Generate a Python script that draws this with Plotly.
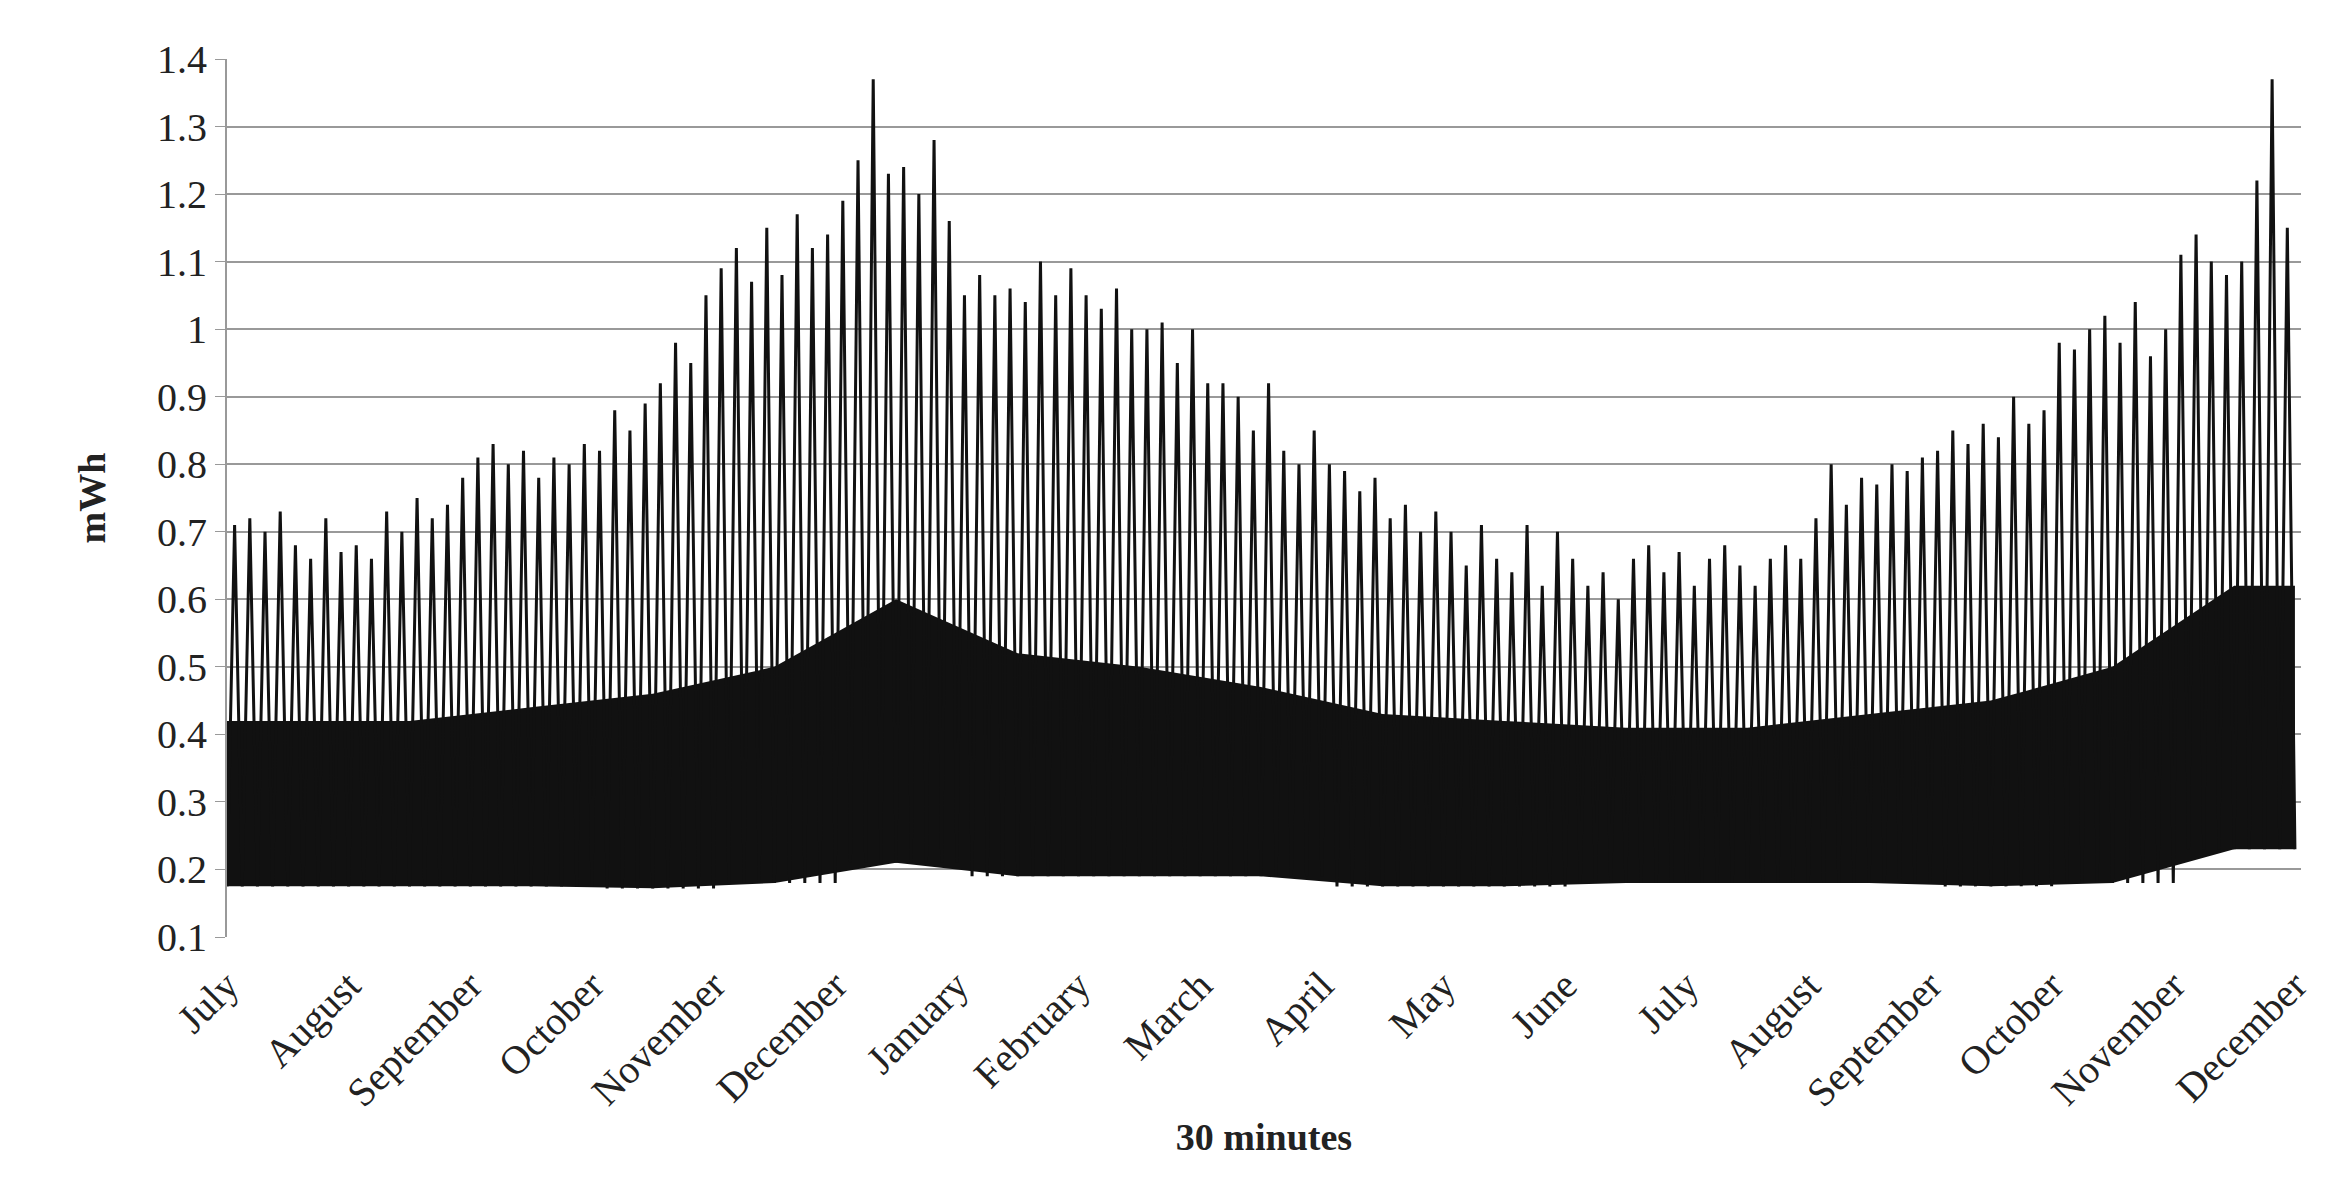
import plotly.graph_objects as go

# month labels on the category axis (one tick per month start)
months = ["July", "August", "September", "October", "November", "December",
          "January", "February", "March", "April", "May", "June",
          "July", "August", "September", "October", "November", "December"]

# half-weekly peak readings (8 per month), mWh
peaks = [
    [0.71, 0.72, 0.70, 0.73, 0.68, 0.66, 0.72, 0.67],
    [0.68, 0.66, 0.73, 0.70, 0.75, 0.72, 0.74, 0.78],
    [0.81, 0.83, 0.80, 0.82, 0.78, 0.81, 0.80, 0.83],
    [0.82, 0.88, 0.85, 0.89, 0.92, 0.98, 0.95, 1.05],
    [1.09, 1.12, 1.07, 1.15, 1.08, 1.17, 1.12, 1.14],
    [1.19, 1.25, 1.37, 1.23, 1.24, 1.20, 1.28, 1.16],
    [1.05, 1.08, 1.05, 1.06, 1.04, 1.10, 1.05, 1.09],
    [1.05, 1.03, 1.06, 1.00, 1.00, 1.01, 0.95, 1.00],
    [0.92, 0.92, 0.90, 0.85, 0.92, 0.82, 0.80, 0.85],
    [0.80, 0.79, 0.76, 0.78, 0.72, 0.74, 0.70, 0.73],
    [0.70, 0.65, 0.71, 0.66, 0.64, 0.71, 0.62, 0.70],
    [0.66, 0.62, 0.64, 0.60, 0.66, 0.68, 0.64, 0.67],
    [0.62, 0.66, 0.68, 0.65, 0.62, 0.66, 0.68, 0.66],
    [0.72, 0.80, 0.74, 0.78, 0.77, 0.80, 0.79, 0.81],
    [0.82, 0.85, 0.83, 0.86, 0.84, 0.90, 0.86, 0.88],
    [0.98, 0.97, 1.00, 1.02, 0.98, 1.04, 0.96, 1.00],
    [1.11, 1.14, 1.10, 1.08, 1.10, 1.22, 1.37, 1.15],
]
# monthly trough level and top of the solid core
lows = [0.175, 0.175, 0.175, 0.172, 0.18, 0.21, 0.19, 0.19, 0.19,
        0.175, 0.175, 0.18, 0.18, 0.18, 0.175, 0.18, 0.23]
core = [0.42, 0.42, 0.44, 0.46, 0.50, 0.60, 0.52, 0.50, 0.47,
        0.43, 0.42, 0.41, 0.41, 0.43, 0.45, 0.50, 0.62]

font = "Liberation Serif"
ink = "#111111"

# zigzag through peaks and troughs
zx, zy = [0.0], [lows[0]]
for m, row in enumerate(peaks):
    n = len(row)
    for k, p in enumerate(row):
        zx += [m + (k + 0.5) / n, m + (k + 1) / n]
        zy += [p, lows[m]]

bx = [0] + [m + 0.5 for m in range(len(core))] + [len(core)]
blo = [lows[0]] + lows + [lows[-1]]
bhi = [core[0]] + core + [core[-1]]

fig = go.Figure()
fig.add_trace(go.Scatter(x=bx, y=blo, mode="lines", line=dict(width=0, color=ink),
                         showlegend=False, hoverinfo="skip"))
fig.add_trace(go.Scatter(x=bx, y=bhi, mode="lines", line=dict(width=0, color=ink),
                         fill="tonexty", fillcolor=ink, showlegend=False))
fig.add_trace(go.Scatter(x=zx, y=zy, mode="lines", line=dict(width=3, color=ink),
                         showlegend=False))

yt = [round(0.1 * i, 1) for i in range(1, 15)]
fig.update_layout(
    width=2338, height=1193,
    margin=dict(l=219, r=45, t=51, b=264),
    plot_bgcolor="white", paper_bgcolor="white",
    font=dict(family=font, size=40, color="#222"),
    xaxis=dict(range=[0, 17.05], tickvals=list(range(18)), ticktext=months,
               tickangle=-45, showgrid=False, zeroline=False, showline=False,
               ticks="outside", ticklen=8, tickcolor="rgba(0,0,0,0)",
               title=dict(text="<b>30 minutes</b>", font=dict(size=38), standoff=8)),
    yaxis=dict(range=[0.1, 1.4], tickvals=yt,
               ticktext=[("%g" % v) for v in yt],
               showgrid=True, gridcolor="#999", gridwidth=2,
               showline=True, linecolor="#999", linewidth=2,
               ticks="outside", ticklen=10, tickcolor="#999", zeroline=False,
               title=dict(text="<b>mWh</b>", font=dict(size=38), standoff=40)),
)
fig.write_html("out.html")
